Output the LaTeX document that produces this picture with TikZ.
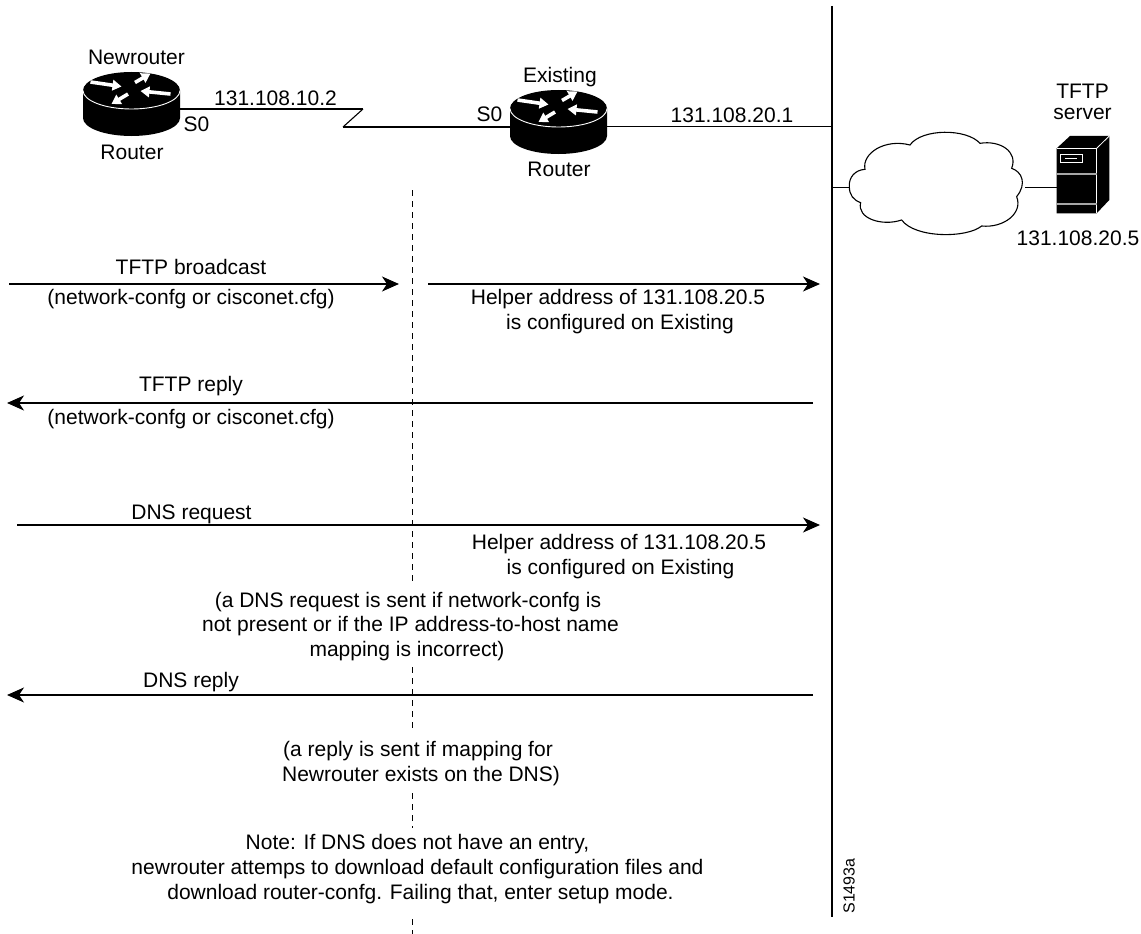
\documentclass[tikz,border=0pt]{standalone}
\usepackage{fontspec}
\setmainfont{Liberation Sans}
\usetikzlibrary{arrows.meta}
\tikzset{
  lbl/.style={inner sep=0pt, yshift=-1.5pt, font=\fontsize{21}{25}\selectfont},
  wire/.style={line width=1.1pt},
  msg/.style={line width=1.4pt, -{Stealth[length=17pt,width=15pt,inset=5pt]}},
  whitearrow/.style={white, line width=3.6pt, -{Triangle[length=9pt,width=10.5pt]}},
  cloudline/.style={line width=1.1pt, draw=black, fill=white},
}
\newcommand{\routerbody}[2]{
  \begin{scope}[shift={(#1,#2)}]
    \fill[black] (-48.5,0) -- (-48.5,27.5) arc[x radius=48.5, y radius=18, start angle=180, end angle=0] -- (48.5,0) arc[x radius=48.5, y radius=18.5, start angle=0, end angle=-180] -- cycle;
    \draw[white, line width=0.9pt] (-48.5,0) arc[x radius=48.5, y radius=18.5, start angle=180, end angle=0];
    \draw[whitearrow] (-41,-8.5) -- (-10,-4);
    \draw[whitearrow] (3.5,-8) -- (19,-17);
    \draw[whitearrow] (39,3.5) -- (9,0.5);
    \draw[whitearrow] (-3.5,3.5) -- (-20,13.5);
  \end{scope}
}
\begin{document}
\begin{tikzpicture}[x=1pt, y=-1pt]
  \useasboundingbox (0,0) rectangle (1141,934);
  % devices
  \routerbody{131.5}{90.5}
  \routerbody{558.5}{108.5}
  \coordinate (newr) at (180,109);
  \coordinate (kink1) at (363,109);
  \coordinate (kink2) at (343,127);
  \coordinate (existl) at (510,127);
  \coordinate (existr) at (607,126.5);
  \coordinate (bustap) at (832,126.5);
  \coordinate (bustop) at (832,6);
  \coordinate (busend) at (832,917);
  \coordinate (buscloud) at (832,187.5);
  \coordinate (cloudl) at (849.5,187.5);
  \coordinate (cloudr) at (1025,187.5);
  \coordinate (serverl) at (1057,187.5);
  % cloud
  \begin{scope}[shift={(790,90)}, x=0.3333pt, y=-0.3333pt]
    \draw[cloudline] (178,290) .. controls (176,262) and (195,240) .. (225,238)
      .. controls (215,190) and (285,145) .. (360,165)
      .. controls (395,115) and (530,115) .. (570,160)
      .. controls (630,150) and (685,185) .. (665,235)
      .. controls (695,245) and (712,280) .. (680,320)
      .. controls (700,370) and (640,415) .. (575,408)
      .. controls (530,445) and (375,445) .. (335,390)
      .. controls (275,410) and (200,385) .. (212,338)
      .. controls (190,330) and (178,315) .. (178,290) -- cycle;
  \end{scope}
  % server
  \begin{scope}[shift={(790,90)}, x=0.3333pt, y=-0.3333pt]
    \fill[black] (800,175) -- (840,138) -- (958,138) -- (958,330) -- (920,370) -- (800,370) -- cycle;
    \draw[white, line width=0.8pt] (920,175) -- (958,138);
    \draw[white, line width=0.8pt] (800,175) -- (920,175) -- (920,370);
    \draw[black!35, line width=1.2pt] (800,252) -- (920,252);
    \draw[black!35, line width=1.2pt] (800,342) -- (920,342);
    \draw[white, line width=0.8pt] (812,192) rectangle (877,218);
    \draw[white, line width=0.8pt] (826,205) -- (862,205);
  \end{scope}
  % wires
  \foreach \source/\dest in {newr/kink1, kink1/kink2, kink2/existl, existr/bustap, bustop/busend, buscloud/cloudl, cloudr/serverl}
    \draw[wire] (\source) -- (\dest);
  % dashed line, broken where text sits
  \foreach \ya/\yb in {190/582, 667/730, 793/828, 919/934}{
    \coordinate (dasha) at (412.5,\ya);
    \coordinate (dashb) at (412.5,\yb);
    \draw[wire, dash pattern=on 6pt off 5pt] (dasha) -- (dashb);
  }
  % messages
  \coordinate (a1) at (9,284);
  \coordinate (a2) at (399,284);
  \coordinate (b1) at (428,284);
  \coordinate (b2) at (820,284);
  \coordinate (c1) at (813,403);
  \coordinate (c2) at (7,403);
  \coordinate (d1) at (17,525);
  \coordinate (d2) at (820,525);
  \coordinate (e1) at (813,695);
  \coordinate (e2) at (7,695);
  \foreach \source/\dest in {a1/a2, b1/b2, c1/c2, d1/d2, e1/e2}
    \draw[msg] (\source) -- (\dest);
  % labels
  \node[lbl] (l1) at (136.5,56) {Newrouter};
  \node[lbl] (l2) at (132,151) {Router};
  \node[lbl] (l3) at (275.5,97) {131.108.10.2};
  \node[lbl] (l4) at (196.5,123) {S0};
  \node[lbl] (l5) at (560,76) {Existing};
  \node[lbl] (l6) at (559,168) {Router};
  \node[lbl] (l7) at (489.5,113) {S0};
  \node[lbl] (l8) at (732,114) {131.108.20.1};
  \node[lbl] (l9) at (1082.5,90) {TFTP};
  \node[lbl] (l10) at (1082.5,112) {server};
  \node[lbl] (l11) at (1078,237) {131.108.20.5};
  \node[lbl] (l12) at (191,265) {TFTP broadcast};
  \node[lbl] (l13) at (191,298) {(network-confg or cisconet.cfg)};
  \node[lbl] (l14) at (191,385) {TFTP reply};
  \node[lbl] (l15) at (191,418) {(network-confg or cisconet.cfg)};
  \node[lbl] (l16) at (618,298) {Helper address of 131.108.20.5};
  \node[lbl] (l17) at (620,323) {is configured on Existing};
  \node[lbl] (l18) at (191.5,513) {DNS request};
  \node[lbl] (l19) at (619,543) {Helper address of 131.108.20.5};
  \node[lbl] (l20) at (620.5,568) {is configured on Existing};
  \node[lbl] (l21) at (408,601) {(a DNS request is sent if network-confg is};
  \node[lbl] (l22) at (410.5,625) {not present or if the IP address-to-host name};
  \node[lbl] (l23) at (407,650) {mapping is incorrect)};
  \node[lbl] (l24) at (191,681) {DNS reply};
  \node[lbl] (l25) at (418,750) {(a reply is sent if mapping for};
  \node[lbl] (l26) at (421,775) {Newrouter exists on the DNS)};
  \node[lbl] (l27) at (417.5,843) {Note: If DNS does not have an entry,};
  \node[lbl] (l28) at (417.5,868) {newrouter attemps to download default configuration files and};
  \node[lbl] (l29) at (420.5,893) {download router-confg. Failing that, enter setup mode.};
  \node[inner sep=0pt, rotate=90, font=\fontsize{16}{18}\selectfont] (tag) at (849,886) {S1493a};
\end{tikzpicture}
\end{document}
